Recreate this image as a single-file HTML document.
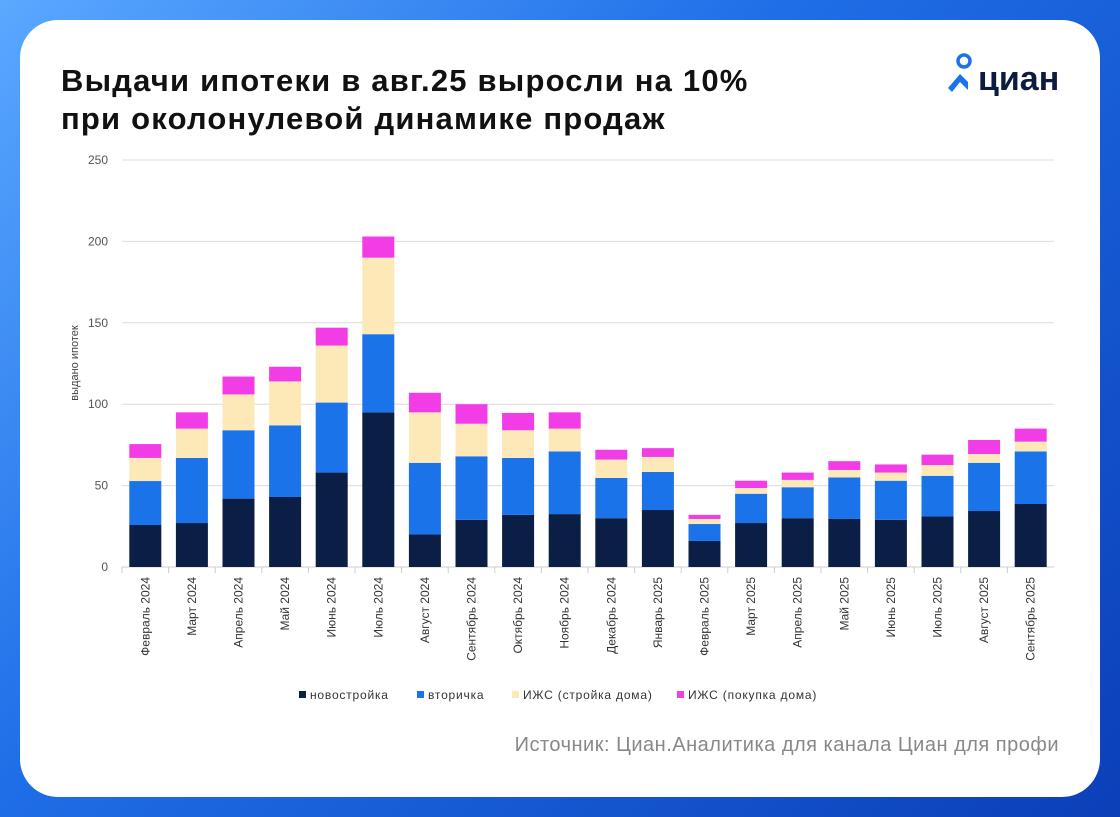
<!DOCTYPE html>
<html><head><meta charset="utf-8">
<style>
html,body{margin:0;padding:0;}
body{width:1120px;height:817px;overflow:hidden;background:linear-gradient(135deg,#5aa8ff 0%,#1f6fe8 40%,#0b3fb8 100%);font-family:"Liberation Sans",sans-serif;position:relative;}
#card{position:absolute;left:20px;top:20px;width:1080px;height:777px;background:#fff;border-radius:38px;}
#title{position:absolute;left:61px;top:62px;font-size:31px;font-weight:bold;color:#111;line-height:38px;letter-spacing:1.2px;}
#logo{position:absolute;left:946px;top:52px;}
#src{position:absolute;right:61px;top:734px;font-size:20px;color:#888;letter-spacing:0.5px;}
</style></head><body>
<div id="card"></div>
<div id="title">Выдачи ипотеки в авг.25 выросли на 10%<br>при околонулевой динамике продаж</div>
<svg id="logo" width="120" height="44">
<circle cx="18" cy="9" r="6" fill="none" stroke="#1a73e8" stroke-width="3.5"/>
<path d="M2 36 L14 22 L22 30 L22 38 L14 30 L6 40 Z" fill="#1a73e8"/>
<text x="32" y="38" font-family="Liberation Sans" font-weight="bold" font-size="34" fill="#0d1b3e">циан</text>
</svg>
<svg id="chart" width="1120" height="817" style="position:absolute;left:0;top:0"></svg>
<div id="src">Источник: Циан.Аналитика для канала Циан для профи</div>
<script>
const categories=["Февраль 2024","Март 2024","Апрель 2024","Май 2024","Июнь 2024","Июль 2024","Август 2024","Сентябрь 2024","Октябрь 2024","Ноябрь 2024","Декабрь 2024","Январь 2025","Февраль 2025","Март 2025","Апрель 2025","Май 2025","Июнь 2025","Июль 2025","Август 2025","Сентябрь 2025"];
const novostroyka=[25.8,27,42,43,58,95,20,29,32,32.5,30,35,16,27,30,29.5,29,31,34.4,38.7];
const vtorichka=[27,40,42,44,43,48,44,39,35,38.5,24.7,23.4,10.4,18,19,25.5,24,25,29.6,32.3];
const izhsBuild=[14.2,18,22,27,35,47,31,20,17,14,11.3,9.2,3.1,3.5,4.5,4.6,5,6.6,5.4,6];
const izhsBuy=[8.5,10,11,9,11,13,12,12,10.6,10,6,5.4,2.5,4.5,4.5,5.4,5,6.4,8.6,8];
const yTicks=[0,50,100,150,200,250];
const seriesNames=["новостройка","вторичка","ИЖС (стройка дома)","ИЖС (покупка дома)"];
const colors=["#0b1e45","#1a73e8","#fde9b8","#f23de6"];
const NS="http://www.w3.org/2000/svg",svg=document.getElementById('chart');
const x0=122,x1=1054,yb=567,yt=160;
const y=v=>yb-(v/250)*(yb-yt);
const step=(x1-x0)/categories.length;
const xc=i=>x0+step*(i+0.5);
function mk(t,a,p){const e=document.createElementNS(NS,t);for(const k in a)e.setAttribute(k,a[k]);(p||svg).appendChild(e);return e;}
yTicks.forEach(v=>{
 const g=mk('line',{x1:x0,x2:x1,y1:y(v),y2:y(v),stroke:v?'#dcdcdc':'#cfcfcf','stroke-width':1});
 
 
 const t=mk('text',{x:108,y:y(v)+4,'text-anchor':'end','font-size':12,fill:'#555','font-family':'Liberation Sans'});
 t.textContent=v;
 
 
});
const yt2=mk('text',{x:78,y:363,'text-anchor':'middle','font-size':11,fill:'#444',transform:'rotate(-90 78 363)','font-family':'Liberation Sans'});
yt2.textContent='выдано ипотек';


const series=[novostroyka,vtorichka,izhsBuild,izhsBuy];
categories.forEach((c,i)=>{
 let acc=0;
 series.forEach((s,k)=>{
  const r=mk('rect',{x:xc(i)-16,width:32,y:y(acc+s[i]),height:y(acc)-y(acc+s[i]),fill:colors[k]});
  
  
  acc+=s[i];
 });
 const tk=mk('line',{x1:x0+step*i,x2:x0+step*i,y1:yb,y2:yb+6,stroke:'#ccc'});
 
 
 const t=mk('text',{x:0,y:0,'text-anchor':'end','font-size':12,fill:'#333','font-family':'Liberation Sans',transform:`translate(${xc(i)+4},${yb+10}) rotate(-90)`});
 t.textContent=c;
 
 
});
const lx=[299,417,512,677];
seriesNames.forEach((n,k)=>{
 const r=mk('rect',{x:lx[k],y:691,width:7,height:7,fill:colors[k]});
 
 
 const t=mk('text',{x:lx[k]+11,y:699,'font-size':12,fill:'#333','font-family':'Liberation Sans','letter-spacing':'0.8'});
 t.textContent=n;
 
 
});
</script>
</body></html>
